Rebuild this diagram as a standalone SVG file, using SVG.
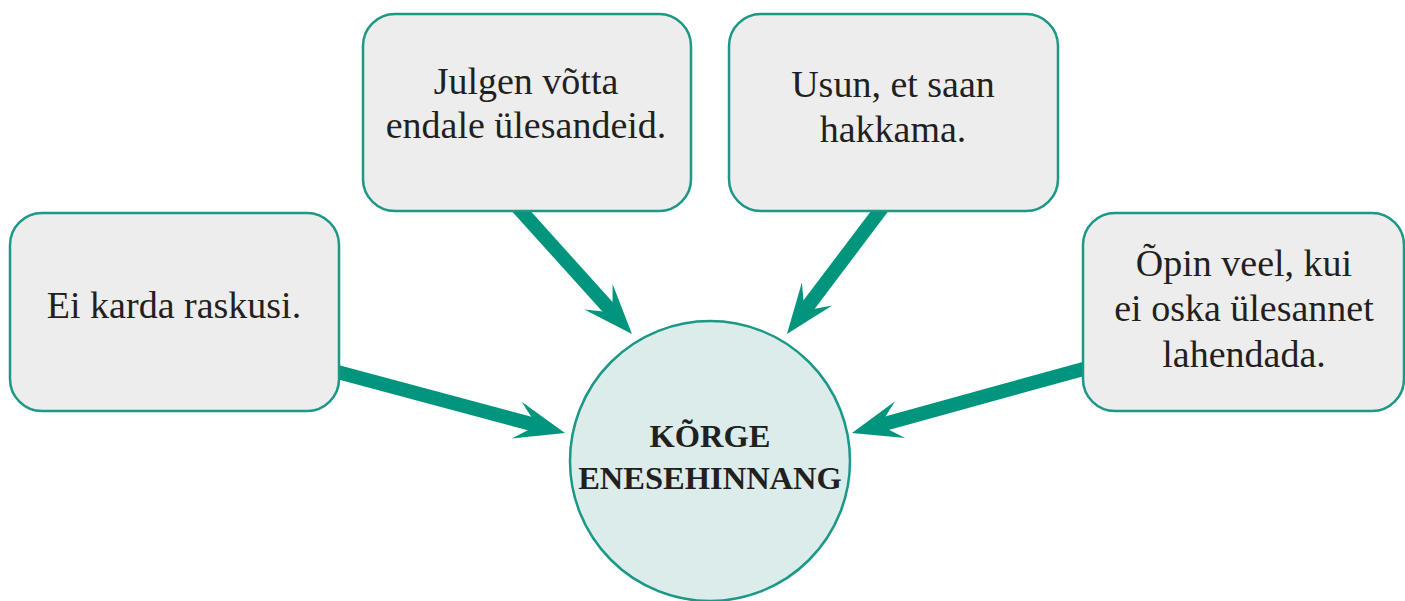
<svg xmlns="http://www.w3.org/2000/svg" width="1405" height="601" viewBox="0 0 1405 601">
<style>
.box{fill:#ededed;stroke:#1b9886;stroke-width:2.5}
.hub{fill:#dbecea;stroke:#1b9886;stroke-width:2.5}
.lbl{font-family:"Liberation Serif","Times New Roman",serif;font-size:38px;fill:#231f20;text-anchor:middle}
.hubt{font-family:"Liberation Serif","Times New Roman",serif;font-size:32.5px;font-weight:bold;fill:#231f20;text-anchor:middle}
.conn{stroke:#00957c;stroke-width:14;fill:none;marker-end:url(#head)}
</style>
<defs>
<marker id="head" markerUnits="userSpaceOnUse" orient="auto" refX="0" refY="0" markerWidth="60" markerHeight="60" overflow="visible">
<path d="M24,0 L-26,-19 L-5,0 L-26,19 Z" fill="#00957c"/>
</marker>
</defs>
<rect width="1405" height="601" fill="#ffffff"/>
<g id="connectors">
<line class="conn" x1="330" y1="370" x2="541.8" y2="426.8"/>
<line class="conn" x1="516.6" y1="206" x2="615.9" y2="316.1"/>
<line class="conn" x1="883.8" y1="205.6" x2="801.4" y2="314.8"/>
<line class="conn" x1="1090.7" y1="366.9" x2="875.1" y2="426.6"/>
</g>
<g id="node-hub">
<circle class="hub" cx="710" cy="461" r="140"/>
<text class="hubt" x="710" y="447">KÕRGE</text>
<text class="hubt" x="710" y="489">ENESEHINNANG</text>
</g>
<g id="node-1">
<rect class="box" x="10" y="213" width="329" height="198" rx="32"/>
<text class="lbl" x="174" y="318">Ei karda raskusi.</text>
</g>
<g id="node-2">
<rect class="box" x="363" y="14" width="328" height="197" rx="32"/>
<text class="lbl" x="526" y="94">Julgen võtta</text>
<text class="lbl" x="526" y="138">endale ülesandeid.</text>
</g>
<g id="node-3">
<rect class="box" x="729" y="14" width="329" height="197" rx="32"/>
<text class="lbl" x="893" y="97">Usun, et saan</text>
<text class="lbl" x="893" y="142">hakkama.</text>
</g>
<g id="node-4">
<rect class="box" x="1083" y="213" width="321" height="198" rx="32"/>
<text class="lbl" x="1244" y="276">Õpin veel, kui</text>
<text class="lbl" x="1244" y="321">ei oska ülesannet</text>
<text class="lbl" x="1244" y="367">lahendada.</text>
</g>
</svg>
